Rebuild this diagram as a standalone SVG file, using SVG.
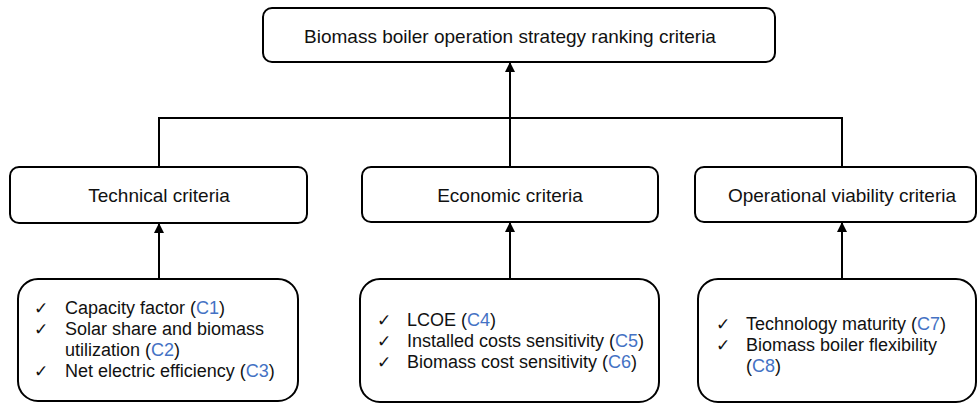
<svg xmlns="http://www.w3.org/2000/svg" width="979" height="406" viewBox="0 0 979 406">
<style>
.box{fill:#fff;stroke:#000;stroke-width:2}
.h{font-family:"Liberation Sans",Arial,sans-serif;font-size:19px;fill:#111}
.t{font-family:"Liberation Sans",Arial,sans-serif;font-size:18px;fill:#111}
.c{fill:#4472C4}
.ck{font-family:"DejaVu Sans",sans-serif;font-size:17px;fill:#111}
.ln{fill:none;stroke:#000;stroke-width:2}
</style>
<defs>
<marker id="ah" viewBox="0 0 10 10" refX="9" refY="5" markerWidth="5" markerHeight="5" orient="auto">
<path d="M0,0 L10,5 L0,10 z" fill="#000"/>
</marker>
</defs>
<g id="connectors">
<path class="ln" d="M510,118 V63" marker-end="url(#ah)"/>
<path class="ln" d="M159,167 V118 H842 V167"/>
<path class="ln" d="M510,118 V167"/>
<path class="ln" d="M159,279 V224" marker-end="url(#ah)"/>
<path class="ln" d="M510,279 V223" marker-end="url(#ah)"/>
<path class="ln" d="M842,279 V223" marker-end="url(#ah)"/>
</g>
<g id="root">
<rect class="box" x="263" y="8" width="512" height="54" rx="9"/>
<text class="h" x="510" y="43" text-anchor="middle">Biomass boiler operation strategy ranking criteria</text>
</g>
<g id="technical">
<rect class="box" x="10" y="167" width="297" height="56" rx="9"/>
<text class="h" x="159" y="202" text-anchor="middle">Technical criteria</text>
</g>
<g id="economic">
<rect class="box" x="362" y="167" width="296" height="55" rx="9"/>
<text class="h" x="510" y="202" text-anchor="middle">Economic criteria</text>
</g>
<g id="operational">
<rect class="box" x="695" y="167" width="281" height="55" rx="9"/>
<text class="h" x="842" y="202" text-anchor="middle">Operational viability criteria</text>
</g>
<g id="technical-list">
<rect class="box" x="18" y="279" width="280" height="122" rx="20"/>
<text class="ck" x="34" y="314">✓</text>
<text class="ck" x="34" y="335">✓</text>
<text class="ck" x="34" y="377">✓</text>
<text class="t" x="65" y="314">Capacity factor (<tspan class="c">C1</tspan>)</text>
<text class="t" x="65" y="335">Solar share and biomass</text>
<text class="t" x="65" y="356">utilization (<tspan class="c">C2</tspan>)</text>
<text class="t" x="65" y="377">Net electric efficiency (<tspan class="c">C3</tspan>)</text>
</g>
<g id="economic-list">
<rect class="box" x="360" y="279" width="299" height="123" rx="20"/>
<text class="ck" x="377" y="326">✓</text>
<text class="ck" x="377" y="347">✓</text>
<text class="ck" x="377" y="368">✓</text>
<text class="t" x="407" y="326">LCOE (<tspan class="c">C4</tspan>)</text>
<text class="t" x="407" y="347">Installed costs sensitivity (<tspan class="c">C5</tspan>)</text>
<text class="t" x="407" y="368">Biomass cost sensitivity (<tspan class="c">C6</tspan>)</text>
</g>
<g id="operational-list">
<rect class="box" x="698" y="279" width="278" height="123" rx="20"/>
<text class="ck" x="716" y="330">✓</text>
<text class="ck" x="716" y="351">✓</text>
<text class="t" x="746" y="330">Technology maturity (<tspan class="c">C7</tspan>)</text>
<text class="t" x="746" y="351">Biomass boiler flexibility</text>
<text class="t" x="746" y="372">(<tspan class="c">C8</tspan>)</text>
</g>
</svg>
